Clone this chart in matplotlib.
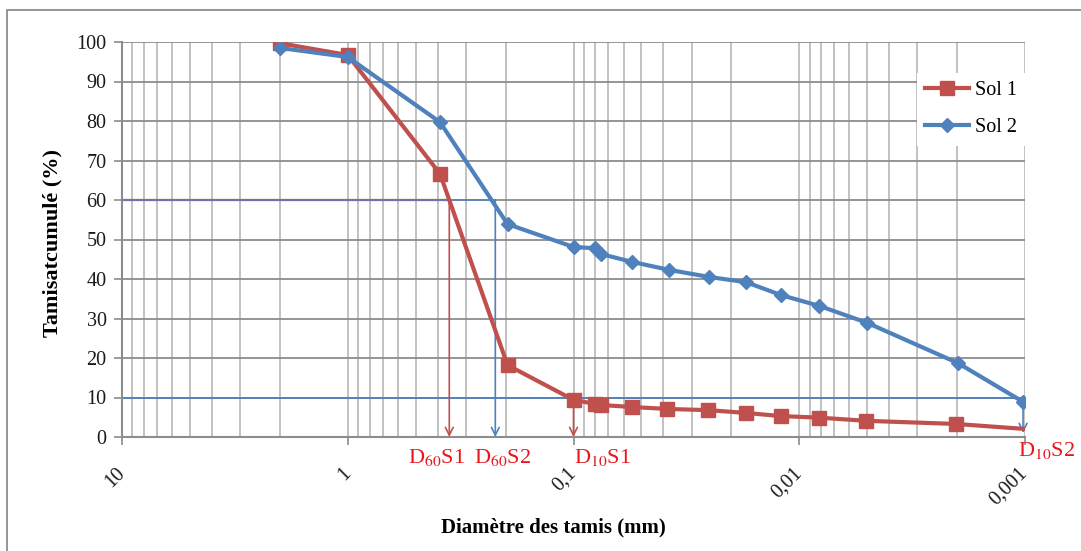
import matplotlib
matplotlib.use("Agg")
import matplotlib.pyplot as plt
from matplotlib.ticker import LogLocator, NullFormatter
from matplotlib.patches import Rectangle

plt.rcParams['font.family'] = ['Liberation Serif', 'DejaVu Serif']
plt.rcParams['mathtext.fontset'] = 'stix'

# Granulometry: sieve diameter (mm) vs cumulative passing (%)
diam_sol1 = [2, 1, 0.39, 0.196, 0.1, 0.0807, 0.0752, 0.0553, 0.0384, 0.0253,
             0.0173, 0.0121, 0.00816, 0.00506, 0.00202, 0.00098]
pass_sol1 = [99.7, 96.7, 66.6, 18.2, 9.4, 8.4, 8.1, 7.6, 7.1, 6.8,
             6.1, 5.3, 4.9, 4.1, 3.3, 2.0]

diam_sol2 = [2, 1, 0.39, 0.196, 0.1, 0.0807, 0.0752, 0.0548, 0.0376, 0.0250,
             0.0172, 0.0120, 0.00816, 0.0050, 0.00198, 0.00102]
pass_sol2 = [98.5, 96.2, 79.7, 53.9, 48.1, 47.8, 46.3, 44.3, 42.3, 40.5,
             39.2, 35.9, 33.2, 28.9, 18.7, 8.9]

# characteristic diameters
d60_s1 = 0.355
d60_s2 = 0.222
d10_s1 = 0.1
d10_s2 = 0.00102

xticks = [10, 1, 0.1, 0.01, 0.001]
xtick_labels = ['10', '1', '0,1', '0,01', '0,001']
yticks = list(range(0, 101, 10))

red = '#c0504d'
blue = '#4f81bd'
txt_red = '#e8161b'

fig = plt.figure(figsize=(10.81, 5.51), dpi=100)
ax = fig.add_axes([122 / 1081, 1 - 437 / 551, 903 / 1081, 395 / 551])

ax.set_xscale('log')
ax.set_xlim(10, 0.001)
ax.set_ylim(0, 100)

# grid
ax.xaxis.set_minor_locator(LogLocator(base=10, subs=range(2, 10)))
ax.xaxis.set_minor_formatter(NullFormatter())
ax.grid(True, which='major', axis='y', color='#8c8c8c', lw=1.3)
ax.grid(True, which='both', axis='x', color='#b8b8b8', lw=1.2)
ax.set_axisbelow(True)

# reference lines at 60 % and 10 %
ax.plot([10, d60_s1], [60, 60], color=red, lw=1.6, zorder=2)
ax.plot([10, d60_s2], [60, 60], color=blue, lw=1.1, zorder=2)
ax.plot([10, d10_s2], [10, 10], color=blue, lw=1.3, zorder=2)

arrow_kw = dict(arrowstyle='->', lw=1.2, mutation_scale=14, shrinkA=0, shrinkB=0)
ax.annotate('', xy=(d60_s1, 0), xytext=(d60_s1, 60), arrowprops=dict(color=red, **arrow_kw))
ax.annotate('', xy=(d60_s2, 0), xytext=(d60_s2, 60), arrowprops=dict(color=blue, **arrow_kw))
ax.annotate('', xy=(d10_s1, 0), xytext=(d10_s1, 10), arrowprops=dict(color=red, **arrow_kw))
ax.annotate('', xy=(d10_s2, 1), xytext=(d10_s2, 10), arrowprops=dict(color=blue, **arrow_kw))

# curves
ax.plot(diam_sol1, pass_sol1, color=red, lw=3, marker='s', markersize=10,
        markevery=list(range(len(diam_sol1) - 1)), label='Sol 1', zorder=4)
ax.plot(diam_sol2, pass_sol2, color=blue, lw=3, marker='D', markersize=7.5,
        label='Sol 2', zorder=5)

# axes styling
for side in ['top', 'right']:
    ax.spines[side].set_visible(False)
for side in ['left', 'bottom']:
    ax.spines[side].set_color('#8c8c8c')
    ax.spines[side].set_linewidth(1.5)
ax.tick_params(axis='both', which='major', direction='out', length=6, color='#8c8c8c',
               width=1.2, labelsize=14.5, labelcolor='#1a1a1a')
ax.tick_params(axis='x', which='minor', length=0)
ax.tick_params(axis='y', pad=5)
ax.tick_params(axis='x', pad=18)

ax.set_yticks(yticks)
ax.set_xticks(xticks)
ax.set_xticklabels(xtick_labels)
for lbl in ax.get_xticklabels():
    lbl.set_rotation(45)
    lbl.set_rotation_mode('anchor')
    lbl.set_ha('right')
    lbl.set_va('center')

ax.set_ylabel('Tamisatcumulé (%)', fontsize=16, fontweight='bold')
ax.yaxis.set_label_coords(-0.066, 0.49)
ax.set_xlabel('Diamètre des tamis (mm)', fontsize=15, fontweight='bold')
ax.xaxis.set_label_coords(0.478, -0.203)

# diameter labels under the axis
lab_kw = dict(xycoords=('data', 'axes fraction'), textcoords='offset points',
              color=txt_red, fontsize=16, va='center', annotation_clip=False)
ax.annotate('D$_{60}$S1', xy=(d60_s1, 0), xytext=(-9, -15), ha='center', **lab_kw)
ax.annotate('D$_{60}$S2', xy=(d60_s2, 0), xytext=(5, -15), ha='center', **lab_kw)
ax.annotate('D$_{10}$S1', xy=(d10_s1, 0), xytext=(0, -15), ha='left', **lab_kw)
ax.annotate('D$_{10}$S2', xy=(d10_s2, 0), xytext=(-4, -10), ha='left', **lab_kw)

leg = ax.legend(loc='upper left', bbox_to_anchor=(907 / 1081, 1 - 63 / 551),
                bbox_transform=fig.transFigure, fontsize=14.5, frameon=True,
                fancybox=False, edgecolor='none', facecolor='white', framealpha=1,
                handlelength=2.2, labelspacing=0.9, handletextpad=0.3, borderpad=0.4)

# outer chart border
fig.patches.append(Rectangle((7.5 / 1081, -0.1), 1.2, 1 - 9.5 / 551 + 0.1,
                             transform=fig.transFigure, fill=False,
                             edgecolor='#8c8c8c', lw=1.3))

fig.savefig('out.png', dpi=100)
